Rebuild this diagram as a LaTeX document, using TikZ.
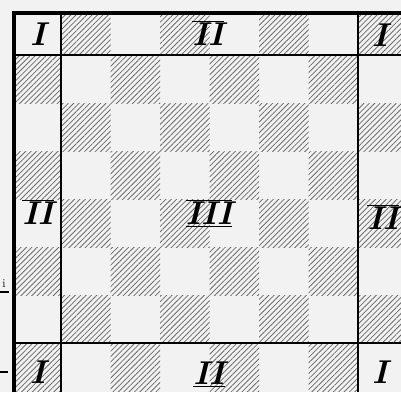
\documentclass[tikz,border=0pt]{standalone}
\usetikzlibrary{patterns.meta}
\definecolor{paper}{gray}{0.95}
\definecolor{hatch}{gray}{0.42}
\tikzset{
  hatched/.style={pattern={Lines[angle=45,distance=3.8pt,line width=0.8pt]},pattern color=hatch},
  rim/.style={line width=4pt},
  fence/.style={line width=2.4pt},
  zone/.style={font=\fontsize{33}{33}\selectfont\bfseries\itshape,inner sep=0pt}
}
\newcommand\barover[1]{$\overline{\hbox{#1}}$}
\begin{document}
\begin{tikzpicture}[x=1pt,y=-1pt]
\useasboundingbox[fill=paper] (0,0) rectangle (401,392);
% the squares
\begin{scope}
\clip (14,13) rectangle (401,392);
\foreach \c in {0,...,7}
  \foreach \r in {0,...,7}{
    \pgfmathparse{int(mod(\c+\r,2))}
    \ifnum\pgfmathresult=1
      \fill[hatched] (11.5+49.5*\c,7+48*\r) rectangle ++(49.5,48);
    \fi}
\end{scope}
% frame and zone lines
\draw[rim] (14,392)--(14,13)--(401,13);
\draw[fence] (61,13)--(61,392);
\draw[fence] (358,13)--(358,392);
\draw[fence] (14,55)--(401,55);
\draw[fence] (14,343)--(401,343);
% zone names
\node[zone] (cornerNW) at (38,34) {I};
\node[zone] (cornerNE) at (380,35) {I};
\node[zone] (cornerSW) at (38,372) {I};
\node[zone] (cornerSE) at (380,372) {I};
\node[zone] (edgeN) at (208,33) {\barover{II}};
\node[zone] (edgeS) at (209,374) {$\underline{\hbox{II}}$};
\node[zone] (edgeW) at (38,212) {\barover{II}};
\node[zone] (edgeE) at (383,217) {\barover{II}};
\node[zone] (middle) at (209,213) {$\overline{\underline{\hbox{III}}}$};
% scraps of the next column
\node[font=\large,inner sep=0pt] (scrap) at (4,284) {i};
\draw[line width=1.2pt] (0,292)--(9,292);
\draw[line width=1.2pt] (0,372)--(8,372);
\end{tikzpicture}
\end{document}
